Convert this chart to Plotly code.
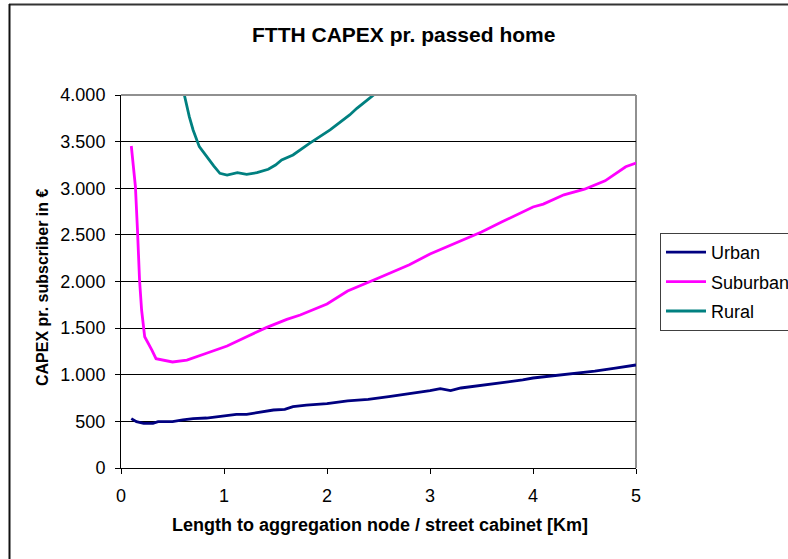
import plotly.graph_objects as go

# ---- data ----
urban_x = [0.1, 0.15, 0.22, 0.31, 0.36, 0.5, 0.6, 0.7, 0.83, 1.0, 1.12, 1.22, 1.32, 1.48, 1.59, 1.67, 1.8, 2.0, 2.2, 2.4, 2.6, 2.8, 3.0, 3.1, 3.2, 3.3, 3.6, 3.9, 4.0, 4.2, 4.3, 4.6, 4.8, 5.0]
urban_y = [530, 497, 479, 479, 497, 497, 515, 529, 536, 558, 576, 576, 593, 622, 629, 658, 675, 690, 720, 735, 765, 795, 830, 850, 830, 858, 900, 945, 965, 990, 995, 1040, 1070, 1105]

suburban_x = [0.1, 0.14, 0.16, 0.18, 0.2, 0.23, 0.3, 0.34, 0.5, 0.64, 0.83, 1.03, 1.22, 1.41, 1.61, 1.74, 2.0, 2.2, 2.5, 2.8, 3.0, 3.2, 3.5, 3.7, 4.0, 4.1, 4.3, 4.5, 4.7, 4.9, 5.0]
suburban_y = [3453, 3017, 2552, 2016, 1694, 1408, 1265, 1172, 1137, 1158, 1230, 1308, 1408, 1505, 1594, 1641, 1759, 1898, 2037, 2180, 2295, 2390, 2531, 2640, 2799, 2830, 2930, 2990, 3080, 3230, 3270]

rural_x = [0.58, 0.615, 0.663, 0.70, 0.76, 0.83, 0.90, 0.96, 1.03, 1.13, 1.22, 1.32, 1.43, 1.50, 1.56, 1.67, 1.83, 2.03, 2.22, 2.29, 2.39, 2.46, 2.52]
rural_y = [4250, 4000, 3768, 3625, 3446, 3338, 3239, 3160, 3142, 3167, 3149, 3167, 3203, 3249, 3303, 3357, 3482, 3625, 3786, 3857, 3946, 4000, 4060]

y_tickvals = [0, 500, 1000, 1500, 2000, 2500, 3000, 3500, 4000]
y_ticktext = ["0", "500", "1.000", "1.500", "2.000", "2.500", "3.000", "3.500", "4.000"]
x_tickvals = [0, 1, 2, 3, 4, 5]

title_text = "FTTH CAPEX pr. passed home"
x_title = "Length to aggregation node / street cabinet [Km]"
y_title = "CAPEX pr. subscriber in €"

FONT = "Liberation Sans, Arial, sans-serif"

fig = go.Figure()
fig.add_trace(go.Scatter(x=urban_x, y=urban_y, mode="lines", name="Urban",
                         legendgroup="u",
                         line=dict(color="#000080", width=2.8)))
fig.add_trace(go.Scatter(x=suburban_x, y=suburban_y, mode="lines", name="Suburban",
                         legendgroup="s",
                         line=dict(color="#FF00FF", width=2.8)))
fig.add_trace(go.Scatter(x=rural_x, y=rural_y, mode="lines", name="Rural",
                         legendgroup="r",
                         line=dict(color="#008080", width=2.8)))

W, H = 788, 559
L, R, T, B = 121, 636, 95, 468
pw, ph = R - L, B - T

def px_x(p):
    return (p - L) / pw

def px_y(p):
    return (B - p) / ph

fig.update_layout(
    width=W, height=H,
    margin=dict(l=L, r=W - R, t=T, b=H - B, pad=0, autoexpand=False),
    paper_bgcolor="white", plot_bgcolor="white",
    font=dict(family=FONT, color="black", size=16),
    showlegend=True,
    legend=dict(
        x=px_x(660), y=px_y(233), xanchor="left", yanchor="top",
        bordercolor="#404040", borderwidth=1, bgcolor="white",
        font=dict(family=FONT, size=18, color="black"),
        tracegroupgap=3, itemwidth=40,
    ),
    xaxis=dict(
        range=[0, 5], tickvals=x_tickvals, ticks="outside", ticklen=5,
        tickcolor="black", showline=True, linecolor="black", linewidth=1,
        showgrid=False, zeroline=False, fixedrange=True,
        ticklabelstandoff=6,
        tickfont=dict(family=FONT, size=18, color="black"),
    ),
    yaxis=dict(
        range=[0, 4000], tickvals=y_tickvals, ticktext=y_ticktext,
        ticks="outside", ticklen=5, tickcolor="black",
        showline=True, linecolor="black", linewidth=1,
        showgrid=True, gridcolor="black", gridwidth=1, zeroline=False,
        fixedrange=True, ticklabelstandoff=6,
        tickfont=dict(family=FONT, size=18, color="black"),
    ),
)

# plot-area top and right border (gray)
fig.add_shape(type="line", xref="paper", yref="paper", x0=0, x1=1, y0=1, y1=1,
              line=dict(color="#909090", width=2), layer="above")
fig.add_shape(type="line", xref="paper", yref="paper", x0=1, x1=1, y0=0, y1=1,
              line=dict(color="#909090", width=2), layer="below")
# outer chart frame (top and left visible)
fig.add_shape(type="line", xref="paper", yref="paper",
              x0=px_x(9), x1=px_x(790), y0=px_y(4.5), y1=px_y(4.5),
              line=dict(color="#333333", width=2))
fig.add_shape(type="line", xref="paper", yref="paper",
              x0=px_x(9.5), x1=px_x(9.5), y0=px_y(4), y1=px_y(565),
              line=dict(color="#111111", width=2))

fig.add_annotation(text="<b>" + title_text + "</b>", xref="paper", yref="paper",
                   x=px_x(403), y=px_y(35), xanchor="center", yanchor="middle",
                   showarrow=False, font=dict(family=FONT, size=21, color="black"))
fig.add_annotation(text="<b>" + x_title + "</b>", xref="paper", yref="paper",
                   x=px_x(380), y=px_y(525), xanchor="center", yanchor="middle",
                   showarrow=False, font=dict(family=FONT, size=18, color="black"))
fig.add_annotation(text="<b>" + y_title + "</b>", xref="paper", yref="paper",
                   x=px_x(42), y=px_y(287), xanchor="center", yanchor="middle",
                   textangle=-90, showarrow=False,
                   font=dict(family=FONT, size=16, color="black"))

fig.write_html("out.html")
